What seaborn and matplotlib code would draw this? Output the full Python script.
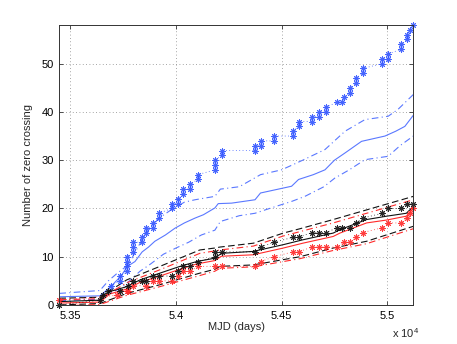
import matplotlib
matplotlib.use("Agg")
import matplotlib.pyplot as plt
import seaborn as sns
import numpy as np

# ---------------- data ----------------
blue_star_x = [53691, 53735, 53735, 53767, 53767, 53767, 53767, 53798, 53798, 53798,
               53838, 53838, 53858, 53858, 53890, 53890, 53920, 53920, 53979, 53979,
               54011, 54011, 54035, 54035, 54066, 54066, 54103, 54103, 54185, 54185,
               54185, 54218, 54218, 54374, 54374, 54401, 54401, 54464, 54464, 54552,
               54552, 54580, 54580, 54642, 54642, 54677, 54677, 54710, 54710, 54763,
               54784, 54797, 54823, 54823, 54852, 54852, 54883, 54883, 54976, 54976,
               55005, 55005, 55065, 55065, 55095, 55095, 55107, 55123]
blue_star_y = [4, 5, 6, 7, 8, 9, 10, 11, 12, 13,
               13, 14, 15, 16, 16, 17, 18, 19, 20, 21,
               21, 22, 23, 24, 24, 25, 26, 27, 28, 29,
               30, 31, 32, 32, 33, 33, 34, 34, 35, 35,
               36, 37, 38, 38, 39, 39, 40, 40, 41, 42,
               42, 43, 44, 45, 46, 47, 48, 49, 50, 51,
               51, 52, 53, 54, 55, 56, 57, 58]

black_star_x = [53448, 53640, 53656, 53680, 53735, 53771, 53798, 53838, 53858, 53890,
                53920, 53979, 54011, 54035, 54066, 54103, 54185, 54185, 54218, 54374,
                54401, 54464, 54552, 54580, 54642, 54677, 54710, 54763, 54784, 54823,
                54852, 54883, 54976, 55005, 55065, 55095, 55123]
black_star_y = [0, 1, 2, 3, 3, 4, 5, 5, 5, 6,
                6, 6, 7, 8, 8, 9, 10, 11, 11, 11,
                12, 13, 14, 14, 15, 15, 15, 16, 16, 16,
                17, 18, 19, 20, 20, 21, 21]

red_star_x = [53448, 53719, 53767, 53771, 53798, 53858, 53890, 53920, 53979, 54011,
              54035, 54066, 54103, 54185, 54218, 54374, 54401, 54464, 54552, 54580,
              54642, 54677, 54710, 54763, 54797, 54823, 54852, 54883, 54976, 55005,
              55065, 55095, 55107, 55123]
red_star_y = [1, 2, 3, 3, 4, 4, 5, 5, 5, 6,
              7, 7, 8, 8, 8, 8, 9, 10, 11, 11,
              12, 12, 12, 12, 13, 13, 14, 15, 16, 17,
              17, 18, 19, 20]

blue_mid_x = [53448, 53640, 53670, 53700, 53740, 53770, 53806, 53840, 53870, 53900,
              53950, 53995, 54040, 54090, 54130, 54184, 54200, 54263, 54374, 54400,
              54547, 54580, 54650, 54705, 54750, 54800, 54878, 54989, 55040, 55083, 55123]
blue_mid_y = [1.7, 1.9, 3.0, 4.2, 6.0, 8.0, 9.0, 11.0, 12.0, 13.2,
              14.5, 15.9, 17.0, 18.0, 18.7, 20.1, 21.0, 21.1, 21.8, 23.2,
              24.6, 26.0, 27.0, 28.0, 30.0, 31.5, 33.9, 35.0, 36.0, 37.0, 39.3]

blue_up_x = [53448, 53640, 53680, 53720, 53774, 53820, 53860, 53920, 53980, 54040,
             54090, 54184, 54210, 54300, 54400, 54500, 54600, 54705, 54800, 54894,
             55004, 55050, 55123]
blue_up_y = [2.4, 3.0, 5.0, 6.5, 8.3, 12.0, 15.0, 18.0, 19.8, 21.3,
             21.8, 22.5, 24.0, 24.5, 27.0, 28.0, 30.0, 32.2, 36.0, 38.4,
             39.1, 40.5, 43.6]

blue_lo_x = [53448, 53640, 53690, 53740, 53780, 53830, 53880, 53940, 54000, 54060,
             54120, 54184, 54210, 54300, 54374, 54450, 54550, 54610, 54700, 54752,
             54820, 54894, 55004, 55060, 55123]
blue_lo_y = [0.9, 1.2, 2.5, 3.5, 5.0, 7.0, 8.5, 10.5, 11.8, 13.0,
             14.5, 15.5, 17.3, 18.5, 19.0, 20.1, 21.5, 22.5, 24.5, 26.3,
             28.0, 30.1, 30.8, 33.0, 35.0]

bk_mid_x = [53448, 53640, 53688, 53767, 53830, 53924, 54019, 54098, 54184, 54215,
            54366, 54508, 54600, 54744, 54776, 54902, 54997, 55090, 55123]
bk_mid_y = [0.7, 1.0, 2.8, 3.8, 5.2, 6.6, 8.0, 9.0, 9.7, 10.7,
            11.1, 12.5, 13.5, 14.9, 15.6, 17.7, 18.4, 19.0, 20.4]
rd_mid_y = [0.4, 0.6, 2.3, 3.3, 4.7, 6.0, 7.4, 8.5, 9.2, 10.1,
            10.4, 11.8, 12.8, 14.2, 14.9, 17.0, 17.6, 18.4, 20.0]

band_x = [53448, 53640, 53767, 53924, 54113, 54184, 54208, 54366, 54508, 54587,
          54744, 54902, 55123]
bk_up_y = [1.4, 1.6, 5.2, 8.0, 11.4, 11.8, 12.0, 12.8, 14.9, 15.8, 17.7, 19.7, 22.5]
rd_up_y = [1.1, 1.3, 4.6, 7.3, 10.7, 11.2, 11.4, 12.2, 14.3, 15.2, 17.0, 19.0, 21.8]
bk_lo_y = [0.0, 0.3, 2.4, 4.2, 6.6, 7.4, 8.0, 8.3, 9.4, 10.0, 11.8, 13.2, 16.3]
rd_lo_y = [-0.2, 0.1, 2.0, 3.8, 6.1, 7.0, 7.6, 7.9, 9.0, 9.6, 11.3, 12.7, 15.8]

x_ticks = [53500, 54000, 54500, 55000]
x_tick_labels = ["5.35", "5.4", "5.45", "5.5"]
y_ticks = [0, 10, 20, 30, 40, 50]

# ---------------- style ----------------
sns.set_style("ticks")
plt.rcParams['font.family'] = ['Liberation Sans', 'DejaVu Sans']
plt.rcParams['mathtext.fontset'] = 'custom'
plt.rcParams['mathtext.rm'] = 'Liberation Sans'

fig = plt.figure(figsize=(4.57, 3.44), dpi=100)
ax = fig.add_axes([0.1298, 0.1134, 0.7746, 0.8139])

BLUE_L = "#5a78ff"
BLUE_S = "#3355ff"
RED = "#ff2a2a"
BLACK = "#111111"
asterisk = (8, 2, 0)

lw = 0.8
# blue lines
sns.lineplot(x=blue_mid_x, y=blue_mid_y, ax=ax, color=BLUE_L, lw=lw,
             estimator=None, sort=False)
for yy, xx in ((blue_up_y, blue_up_x), (blue_lo_y, blue_lo_x)):
    sns.lineplot(x=xx, y=yy, ax=ax, color=BLUE_L, lw=lw, linestyle=(0, (6, 3, 1, 3)),
                 estimator=None, sort=False)

# black / red lines
sns.lineplot(x=bk_mid_x, y=bk_mid_y, ax=ax, color=BLACK, lw=lw, estimator=None, sort=False)
sns.lineplot(x=bk_mid_x, y=rd_mid_y, ax=ax, color=RED, lw=lw, estimator=None, sort=False)
for yy in (bk_up_y, bk_lo_y):
    sns.lineplot(x=band_x, y=yy, ax=ax, color=BLACK, lw=lw, linestyle=(0, (6, 3)),
                 estimator=None, sort=False)
for yy in (rd_up_y, rd_lo_y):
    sns.lineplot(x=band_x, y=yy, ax=ax, color=RED, lw=lw, linestyle=(0, (6, 3, 1, 3)),
                 estimator=None, sort=False)

# star series
for xx, yy, c in ((blue_star_x, blue_star_y, BLUE_S),
                  (red_star_x, red_star_y, RED),
                  (black_star_x, black_star_y, BLACK)):
    sns.lineplot(x=xx, y=yy, ax=ax, color=c, lw=0.6, linestyle=(0, (1, 3)),
                 marker=asterisk, markersize=4.5, markeredgewidth=0.7,
                 markeredgecolor=c, markerfacecolor=c, alpha=0.9,
                 estimator=None, sort=False, clip_on=False)

ax.set_xlim(53448, 55123)
ax.set_ylim(0, 58)
ax.set_xticks(x_ticks)
ax.set_xticklabels(x_tick_labels)
ax.set_yticks(y_ticks)
ax.grid(True, linestyle=(0, (1, 3)), color="#888888", lw=0.6)
ax.tick_params(direction='in', top=True, right=True, length=3, width=0.6,
               labelsize=8, colors="#333333", labelcolor="black", pad=4)
for s in ax.spines.values():
    s.set_color("#333333")
    s.set_linewidth(0.7)
ax.set_xlabel("MJD (days)", fontsize=8, labelpad=1)
ax.set_ylabel("Number of zero crossing", fontsize=8, labelpad=6)
fig.text(392 / 457, 1 - 333 / 344, r"x 10$^4$", fontsize=8, ha='left', va='center')

fig.savefig("out.png", dpi=100)
